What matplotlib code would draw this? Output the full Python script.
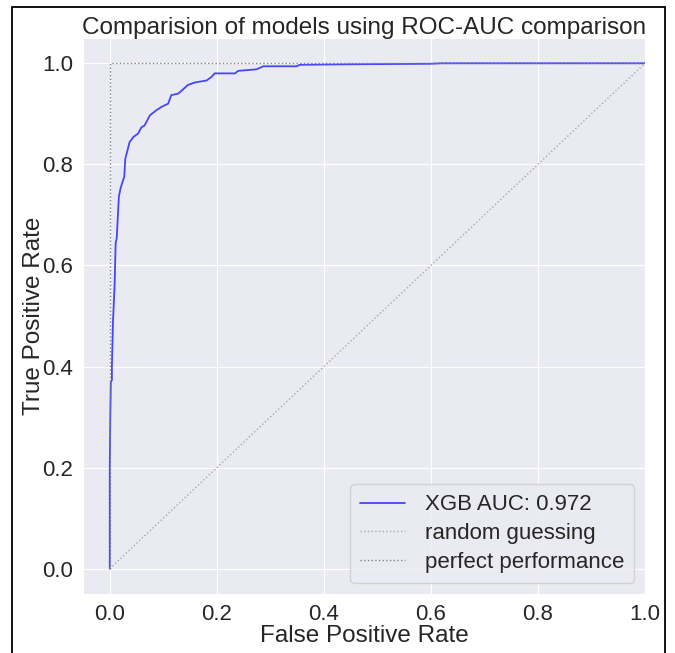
import numpy as np
import matplotlib
matplotlib.use("Agg")
import matplotlib.pyplot as plt
import seaborn as sns
from matplotlib.patches import Rectangle

sns.set_style("darkgrid")
plt.rcParams['font.family'] = ['Liberation Sans', 'DejaVu Sans']

# ROC points
fpr = [0.0, 0.0, 0.001, 0.002, 0.004, 0.004, 0.006, 0.009, 0.011, 0.013, 0.017,
       0.020, 0.025, 0.027, 0.029, 0.037, 0.044, 0.053, 0.059, 0.065, 0.075,
       0.087, 0.097, 0.109, 0.115, 0.128, 0.146, 0.159, 0.181, 0.190, 0.196,
       0.234, 0.240, 0.274, 0.287, 0.349, 0.355, 0.45, 0.60, 0.62, 1.0]
tpr = [0.0, 0.20, 0.30, 0.37, 0.373, 0.40, 0.488, 0.56, 0.644, 0.654, 0.736,
       0.752, 0.769, 0.775, 0.811, 0.844, 0.854, 0.861, 0.873, 0.877, 0.897,
       0.907, 0.914, 0.920, 0.937, 0.940, 0.957, 0.962, 0.966, 0.973, 0.980,
       0.980, 0.985, 0.988, 0.994, 0.994, 0.997, 0.998, 0.999, 1.0, 1.0]
auc = 0.972

fig = plt.figure(figsize=(6.75, 6.53), dpi=100)
ax = fig.add_axes([83/675, 1 - 594/653, (645 - 83)/675, (594 - 38)/653])

ax.plot(fpr, tpr, color='blue', alpha=0.7, lw=1.3, label='XGB AUC: %.3f' % auc)
ax.plot([0, 1], [0, 1], ls=':', color='darkgray', lw=1, label='random guessing')
ax.plot([0, 0, 1], [0, 1, 1], ls=':', color='gray', lw=1, label='perfect performance')

ax.set_xlim(-0.05, 1.0)
ax.set_ylim(-0.05, 1.05)
ax.set_xticks([0.0, 0.2, 0.4, 0.6, 0.8, 1.0])
ax.set_yticks([0.0, 0.2, 0.4, 0.6, 0.8, 1.0])
ax.tick_params(labelsize=16, colors='#262626')
ax.set_xlabel('False Positive Rate', fontsize=17.5, labelpad=0)
ax.set_ylabel('True Positive Rate', fontsize=17.5)
ax.yaxis.set_label_coords(-0.068, 0.5)
ax.set_title('Comparision of models using ROC-AUC comparison', fontsize=17.5, pad=3)
ax.legend(loc='lower right', fontsize=16, frameon=True, borderpad=0.45,
          handlelength=2.0, handletextpad=0.9, labelspacing=0.35)

fig.add_artist(Rectangle((12/675, -0.05), (665 - 12)/675, 1.05 - 7/653,
                         transform=fig.transFigure, fill=False, ec='black', lw=1.3))

fig.savefig('out.png', dpi=100)
